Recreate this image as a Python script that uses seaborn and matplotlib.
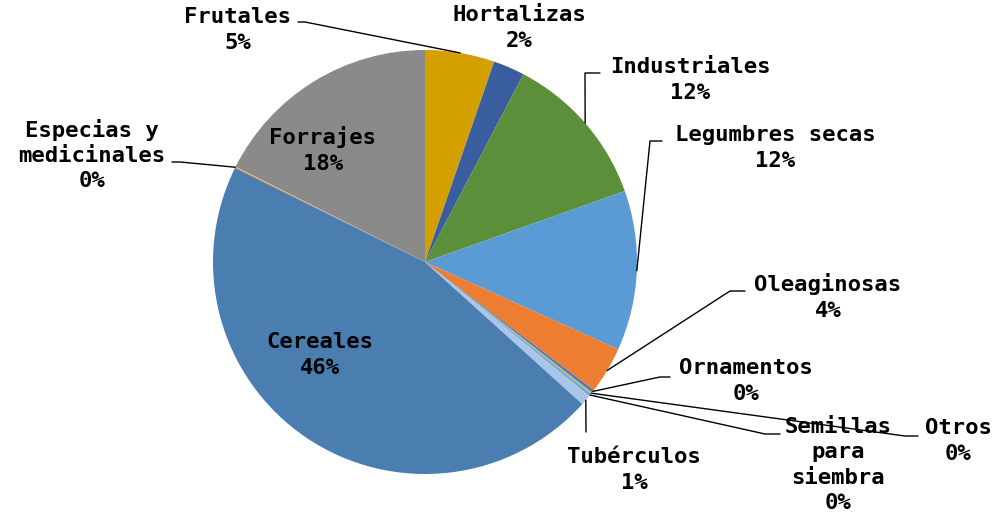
#!/usr/bin/env python3
"""
Pie chart: distribucion por grupo de cultivo
"""

import numpy as np
import seaborn as sns
import matplotlib.pyplot as plt

# Data (clockwise from 12 o'clock)
categories = ['Frutales', 'Hortalizas', 'Industriales', 'Legumbres secas',
              'Oleaginosas', 'Ornamentos', 'Otros', 'Semillas para siembra',
              'Tubérculos', 'Cereales', 'Especias y medicinales', 'Forrajes']
shares = [5.3, 2.4, 11.9, 12.2, 3.6, 0.2, 0.15, 0.2, 0.8, 45.7, 0.1, 17.6]
colors = ['#D4A000', '#3A5DA0', '#5B8F3A', '#5B9BD5', '#ED7D31', '#4472C4',
          '#A5BE70', '#7FA0D0', '#A9C5EA', '#4A7EB0', '#F0A050', '#8A8A8A']
label_text = ['Frutales', 'Hortalizas', 'Industriales', 'Legumbres secas',
              'Oleaginosas', 'Ornamentos', 'Otros', 'Semillas\npara\nsiembra',
              'Tubérculos', 'Cereales', 'Especias y\nmedicinales', 'Forrajes']

W, H = 998, 514

# label layout in pixel coords (origin top-left): text centre, leader points
layout = {
    'Frutales': ((238, 30), [(305, 22), (298, 22)]),
    'Hortalizas': ((519, 28), None),
    'Industriales': ((690, 80), [(585, 73), (600, 73)]),
    'Legumbres secas': ((775, 148), [(650, 141), (662, 141)]),
    'Oleaginosas': ((828, 297), [(730, 291), (745, 291)]),
    'Ornamentos': ((746, 381), [(660, 377), (670, 377)]),
    'Otros': ((958, 441), [(905, 436), (918, 436)]),
    'Semillas para siembra': ((838, 465), [(765, 434), (780, 434)]),
    'Tubérculos': ((634, 470), [(586, 432)]),
    'Cereales': ((320, 355), None),
    'Especias y medicinales': ((92, 155), [(180, 162), (172, 162)]),
    'Forrajes': ((323, 150), None),
}


def flip(p):
    return (p[0], H - p[1])


def main():
    sns.set_style('white')
    plt.rcParams['font.family'] = ['DejaVu Sans Mono', 'DejaVu Sans']

    fig = plt.figure(figsize=(W / 100, H / 100), dpi=100)
    ax = fig.add_axes([0, 0, 1, 1])

    wedges, _ = ax.pie(shares, colors=colors, startangle=90, counterclock=False,
                       center=flip((425, 262)), radius=212, frame=True,
                       wedgeprops=dict(linewidth=0))
    ax.set_xlim(0, W)
    ax.set_ylim(0, H)
    ax.axis('off')

    total = sum(shares)
    for wedge, cat, txt, val in zip(wedges, categories, label_text, shares):
        pct = f'{round(val / total * 100):d}%'
        (tx, ty), leader = layout[cat]
        ax.text(*flip((tx, ty)), f'{txt}\n{pct}', ha='center', va='center',
                fontsize=16, fontweight='bold', linespacing=1.32, color='black')
        if leader:
            mid = np.deg2rad((wedge.theta1 + wedge.theta2) / 2)
            cx, cy = wedge.center
            anchor = (cx + wedge.r * np.cos(mid), cy + wedge.r * np.sin(mid))
            pts = [anchor] + [flip(p) for p in leader]
            xs, ys = zip(*pts)
            ax.plot(xs, ys, color='black', linewidth=1)

    fig.savefig('out.png', dpi=100, facecolor='white')


if __name__ == '__main__':
    main()
